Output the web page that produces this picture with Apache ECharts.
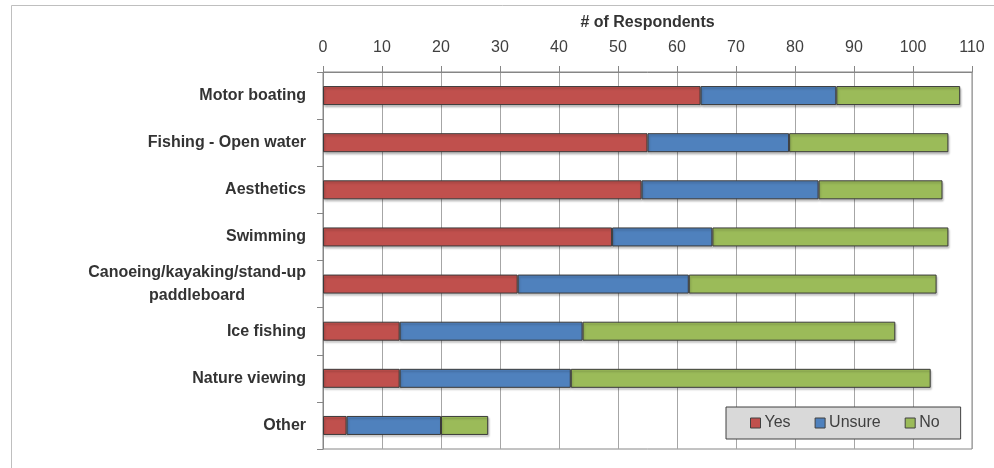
<!DOCTYPE html>
<html>
<head>
<meta charset="utf-8">
<script src="https://cdn.jsdelivr.net/npm/echarts@6/dist/echarts.min.js"></script>
<style>
  html, body { margin: 0; padding: 0; background: #ffffff; }
  #chart { width: 994px; height: 468px; }
</style>
</head>
<body>
<div id="chart"></div>
<script>
// Activities, listed top to bottom
const categories = [
  'Motor boating',
  'Fishing - Open water',
  'Aesthetics',
  'Swimming',
  'Canoeing/kayaking/stand-up\npaddleboard',
  'Ice fishing',
  'Nature viewing',
  'Other'
];

// Number of respondents per answer
const yesValues    = [64, 55, 54, 49, 33, 13, 13, 4];
const unsureValues = [23, 24, 30, 17, 29, 31, 29, 16];
const noValues     = [21, 27, 21, 40, 42, 53, 61, 8];

const seriesNames  = ['Yes', 'Unsure', 'No'];
const seriesColors = ['#C0504D', '#4F81BD', '#9BBB59'];
const seriesValues = [yesValues, unsureValues, noValues];

const axisTicks = { min: 0, max: 110, interval: 10 };

const FONT = '"Liberation Sans", Arial, sans-serif';
const chart = echarts.init(document.getElementById('chart'), null, { renderer: 'canvas' });

const option = {
  backgroundColor: '#ffffff',
  animation: false,
  textStyle: { fontFamily: FONT },
  graphic: [
    {
      type: 'polyline',
      shape: { points: [[11.5, 468], [11.5, 5.5], [994, 5.5]] },
      style: { stroke: '#bfbfbf', lineWidth: 1, fill: null },
      silent: true
    }
  ],
  grid: {
    left: 323, right: 22, top: 72, bottom: 19,
    show: true,
    borderColor: '#868686',
    borderWidth: 1,
    backgroundColor: 'transparent'
  },
  legend: {
    data: seriesNames,
    left: 726, top: 407,
    orient: 'horizontal',
    backgroundColor: '#d9d9d9',
    borderColor: '#404040',
    borderWidth: 1,
    padding: [8, 21, 8, 24],
    itemGap: 24,
    itemWidth: 10,
    itemHeight: 10,
    icon: 'rect',
    itemStyle: { borderColor: '#404040', borderWidth: 1 },
    textStyle: { fontFamily: FONT, fontSize: 16, color: '#404040', padding: [0, 0, 0, -1] }
  },
  xAxis: {
    type: 'value',
    position: 'top',
    min: axisTicks.min,
    max: axisTicks.max,
    interval: axisTicks.interval,
    name: '# of Respondents',
    nameLocation: 'middle',
    nameGap: 41,
    nameTextStyle: { fontFamily: FONT, fontSize: 16, fontWeight: 'bold', color: '#333333' },
    axisLine: { show: true, lineStyle: { color: '#868686', width: 1 } },
    axisTick: { show: true, inside: false, length: 6, lineStyle: { color: '#868686' } },
    axisLabel: { fontFamily: FONT, fontSize: 16, color: '#404040', margin: 16 },
    splitLine: { show: true, lineStyle: { color: '#a6a6a6', width: 1 } }
  },
  yAxis: {
    type: 'category',
    inverse: true,
    data: categories,
    axisLine: { show: true, lineStyle: { color: '#868686', width: 1 } },
    axisTick: { show: true, alignWithLabel: false, length: 6, lineStyle: { color: '#868686' } },
    axisLabel: {
      margin: 17,
      fontFamily: FONT,
      formatter: function (v) {
        return v.split('\n').map(function (line) { return '{c|' + line + '}'; }).join('\n');
      },
      rich: {
        c: {
          fontFamily: FONT,
          fontSize: 16,
          fontWeight: 'bold',
          color: '#333333',
          align: 'center',
          lineHeight: 23
        }
      }
    },
    splitLine: { show: false }
  },
  series: seriesNames.map(function (name, i) {
    return {
      name: name,
      type: 'bar',
      stack: 'total',
      barWidth: 19,
      data: seriesValues[i],
      itemStyle: {
        color: seriesColors[i],
        borderColor: '#3a3a3a',
        borderWidth: 1,
        shadowColor: 'rgba(0,0,0,0.22)',
        shadowBlur: 2,
        shadowOffsetX: 1,
        shadowOffsetY: 2
      },
      emphasis: { disabled: true }
    };
  })
};

chart.setOption(option);
</script>
</body>
</html>
